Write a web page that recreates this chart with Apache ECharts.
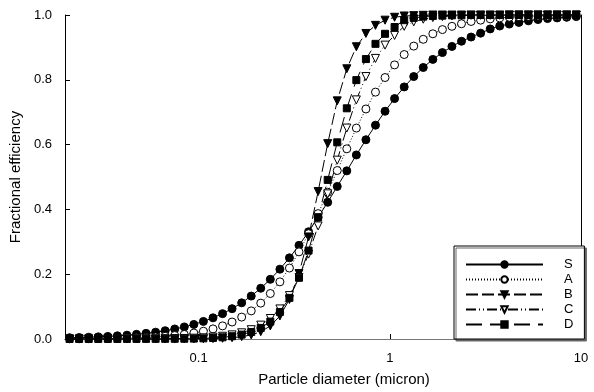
<!DOCTYPE html>
<html>
<head>
<meta charset="utf-8">
<script src="https://cdn.jsdelivr.net/npm/echarts@6/dist/echarts.min.js"></script>
<style>
html,body{margin:0;padding:0;background:#fff;}
#chart{width:594px;height:392px;}
</style>
</head>
<body>
<div id="chart"></div>
<script>
// Particle diameters (micron)
const diameters = [0.02113,0.02371,0.02661,0.02985,0.03350,0.03758,0.04217,0.04732,0.05309,0.05957,
  0.06683,0.07499,0.08414,0.09441,0.1059,0.1189,0.1334,0.1496,0.1679,0.1884,
  0.2113,0.2371,0.2661,0.2985,0.3350,0.3758,0.4217,0.4732,0.5309,0.5957,
  0.6683,0.7499,0.8414,0.9441,1.059,1.189,1.334,1.496,1.679,1.884,
  2.113,2.371,2.661,2.985,3.350,3.758,4.217,4.732,5.309,5.957,
  6.683,7.499,8.414,9.441];

const seriesNames = ['S','A','B','C','D'];

const effS = [0.004,0.0045,0.0055,0.0066,0.008,0.0098,0.0118,0.0144,0.0174,0.0211,
  0.0256,0.031,0.0373,0.045,0.0543,0.0653,0.0783,0.0936,0.1116,0.1325,
  0.1567,0.1842,0.2155,0.2505,0.289,0.331,0.376,0.422,0.471,0.519,
  0.568,0.615,0.660,0.703,0.742,0.778,0.810,0.838,0.863,0.884,
  0.903,0.919,0.932,0.944,0.957,0.966,0.972,0.977,0.982,0.986,
  0.989,0.991,0.993,0.995];

const effA = [0.0006,0.0007,0.001,0.0013,0.0016,0.0021,0.0028,0.0037,0.0048,0.0063,
  0.0083,0.0108,0.0141,0.0184,0.024,0.0312,0.0405,0.0524,0.0676,0.0868,
  0.1107,0.1404,0.1764,0.219,0.269,0.325,0.387,0.453,0.520,0.587,
  0.651,0.710,0.762,0.807,0.846,0.878,0.904,0.925,0.942,0.955,
  0.965,0.973,0.980,0.984,0.988,0.991,0.993,0.995,0.996,0.997,
  0.997,0.998,0.998,0.999];

const effB = [0,0,0,0,0,0,0,0,0,0,
  0.0001,0.0002,0.0003,0.0004,0.0007,0.0012,0.0022,0.0040,0.0071,0.0125,
  0.0225,0.0402,0.0709,0.122,0.202,0.315,0.455,0.603,0.735,0.834,
  0.902,0.943,0.968,0.984,0.993,0.997,0.998,0.999,1,1,
  1,1,1,1,1,1,1,1,1,1,
  1,1,1,1];

const effC = [0.0001,0.0001,0.0002,0.0002,0.0003,0.0003,0.0004,0.0005,0.0006,0.0006,
  0.0007,0.0011,0.0016,0.0025,0.0037,0.0056,0.0084,0.0127,0.0191,0.0287,
  0.0428,0.0633,0.0928,0.134,0.190,0.262,0.349,0.448,0.552,0.651,
  0.738,0.810,0.866,0.907,0.937,0.965,0.979,0.987,0.992,0.995,
  0.997,0.998,0.999,0.999,0.999,0.999,1,1,1,1,
  1,1,1,1];

const effD = [0.0001,0.0001,0.0001,0.0002,0.0002,0.0002,0.0003,0.0003,0.0004,0.0005,
  0.0006,0.0007,0.0008,0.0013,0.0021,0.0033,0.0053,0.0085,0.0136,0.0216,
  0.0342,0.0537,0.0834,0.127,0.189,0.273,0.376,0.491,0.607,0.712,
  0.799,0.864,0.911,0.942,0.963,0.984,0.991,0.995,0.997,0.998,
  0.999,0.999,1,1,1,1,1,1,1,1,
  1,1,1,1];

function pairs(ys){ return diameters.map((d,i)=>[d, ys[i]]); }

const FONT = 'Liberation Sans, Arial, sans-serif';

const styles = {
  S: {symbol:'circle', rotate:0, dash:'solid', size:8, fill:'#000'},
  A: {symbol:'circle', rotate:0, dash:[1,2], size:8, fill:'#fff'},
  B: {symbol:'triangle', rotate:180, dash:[12,4], size:8, fill:'#000'},
  C: {symbol:'triangle', rotate:180, dash:[10,3,1,3,1,3], size:8, fill:'#fff'},
  D: {symbol:'rect', rotate:0, dash:[16,8], size:7, fill:'#000'}
};
const dataMap = {S:effS, A:effA, B:effB, C:effC, D:effD};

const series = seriesNames.map(n => ({
  name: n,
  type: 'line',
  data: pairs(dataMap[n]),
  symbol: styles[n].symbol,
  symbolSize: styles[n].size,
  symbolRotate: styles[n].rotate,
  showAllSymbol: true,
  clip: false,
  animation: false,
  lineStyle: {color:'#000', width:1, type: styles[n].dash},
  itemStyle: {color: styles[n].fill, borderColor:'#000', borderWidth:1}
}));

const chart = echarts.init(document.getElementById('chart'), null, {renderer:'canvas'});
chart.setOption({
  animation: false,
  backgroundColor: '#fff',
  grid: {left:63, right:13, top:15, bottom:49, containLabel:false},
  xAxis: [{
    type: 'log', logBase: 10, min: 0.02, max: 10,
    name: 'Particle diameter (micron)',
    nameLocation: 'middle', nameGap: 33,
    nameTextStyle: {fontFamily: FONT, fontSize: 15, color:'#000', padding:[0,0,0,42]},
    axisLine: {show:true, lineStyle:{color:'#444', width:1}},
    axisTick: {show:true, inside:true, length:5, lineStyle:{color:'#000'}},
    axisLabel: {fontFamily: FONT, fontSize: 13, color:'#000', margin: 13, showMinLabel:false,
      formatter: v => { const l = Math.log10(v); return Math.abs(l-Math.round(l))<1e-6 ? String(+v.toPrecision(3)) : ''; }},
    splitLine: {show:false},
    minorTick: {show:false}
  },{
    type: 'log', logBase: 10, min: 0.02, max: 10, position:'top',
    axisLine: {show:true, lineStyle:{color:'#777', width:1}},
    axisTick:{show:false}, axisLabel:{show:false}, splitLine:{show:false}
  }],
  yAxis: [{
    type: 'value', min: 0, max: 1, interval: 0.2,
    name: 'Fractional efficiency',
    nameLocation: 'middle', nameGap: 42,
    nameTextStyle: {fontFamily: FONT, fontSize: 15, color:'#000'},
    axisLine: {show:true, lineStyle:{color:'#000', width:1}},
    axisTick: {show:true, inside:true, length:5, lineStyle:{color:'#000'}},
    axisLabel: {fontFamily: FONT, fontSize: 13, color:'#000', margin: 13,
      formatter: v => v.toFixed(1)},
    splitLine: {show:false}
  },{
    type: 'value', min: 0, max: 1, interval: 0.2, position:'right',
    axisLine: {show:true, lineStyle:{color:'#000', width:1}},
    axisTick:{show:false}, axisLabel:{show:false}, splitLine:{show:false}
  }],
  legend: {
    data: seriesNames,
    orient: 'vertical',
    left: 454, top: 246,
    width: 128,
    padding: [12, 11, 8, 11],
    itemWidth: 77, itemHeight: 8, itemGap: 2,
    backgroundColor: '#fff',
    borderColor: '#000', borderWidth: 1,
    shadowColor: '#666', shadowOffsetX: 2, shadowOffsetY: 2, shadowBlur: 0,
    textStyle: {fontFamily: FONT, fontSize: 13, lineHeight: 12, color:'#000', padding:[0,0,0,16]}
  },
  series: series
});
</script>
</body>
</html>
